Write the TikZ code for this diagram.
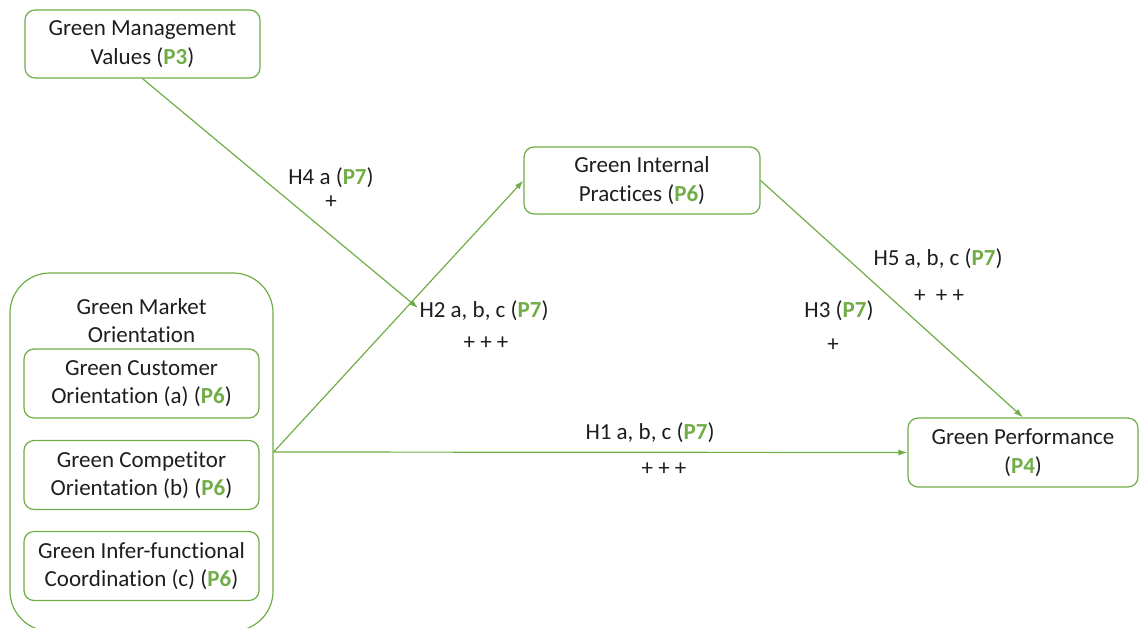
\documentclass[tikz,border=0pt]{standalone}
\usepackage{fontspec}
\setmainfont{Carlito}[Ligatures=NoCommon]
\usetikzlibrary{arrows.meta}
\definecolor{gr}{HTML}{70AD47}
\definecolor{txt}{HTML}{1E1E1E}
\newcommand{\gp}[1]{\textbf{\textcolor{gr}{#1}}}
\begin{document}
\begin{tikzpicture}[x=1pt,y=-1pt,
 box/.style={draw=gr, line width=1.2pt, rounded corners=10pt, align=center, text=txt, font=\fontsize{23}{28.5}\selectfont, inner sep=0pt},
 conn/.style={draw=gr, line width=1.2pt, -{Latex[length=9pt,width=6pt]}},
 lab/.style={font=\fontsize{23}{28.5}\selectfont, align=center, text=txt, inner sep=0pt}]
\useasboundingbox (0,0) rectangle (1140,627);
\node[box, minimum width=235, minimum height=68] (gmv) at (142.5,44) {Green Management\\Values (\gp{P3})};
\node[box, minimum width=236, minimum height=67] (gip) at (642,180.5) {Green Internal\\Practices (\gp{P6})};
\node[box, minimum width=230, minimum height=69] (gp) at (1023,452.5) {Green Performance\\(\gp{P4})};
\node[box, rounded corners=40pt, minimum width=263, minimum height=358] (gmo) at (141.5,452) {};
\node[lab] (gmot) at (141.5,320.5) {Green Market\\Orientation};
\node[box, minimum width=235, minimum height=69] (ga) at (141.5,383.5) {Green Customer\\Orientation (a) (\gp{P6})};
\node[box, minimum width=235, minimum height=69] (gb) at (141.5,475) {Green Competitor\\Orientation (b) (\gp{P6})};
\node[box, minimum width=235, minimum height=69] (gc) at (141.5,566) {Green Infer-functional\\Coordination (c) (\gp{P6})};
\coordinate (h4end) at (418,308);
\draw[conn] (gmv.south) -- (h4end);
\draw[conn] (gmo.east) -- (gip.west);
\draw[conn] (gip.east) -- (gp.north);
\draw[conn] (gmo.east) -- (gp.west);
\node[lab] (l4) at (331,178) {H4 a (\gp{P7})};
\node[lab] (l4p) at (331,202) {+};
\node[lab] (l2) at (484,311) {H2 a, b, c (\gp{P7})};
\node[lab] (l2p) at (486,343) {+ + +};
\node[lab] (l5) at (938,259) {H5 a, b, c (\gp{P7})};
\node[lab] (l5p) at (939,296) {+\ \ + +};
\node[lab] (l3) at (839,311) {H3 (\gp{P7})};
\node[lab] (l3p) at (833,345) {+};
\node[lab] (l1) at (650,433) {H1 a, b, c (\gp{P7})};
\node[lab] (l1p) at (664,469) {+ + +};
\end{tikzpicture}
\end{document}
